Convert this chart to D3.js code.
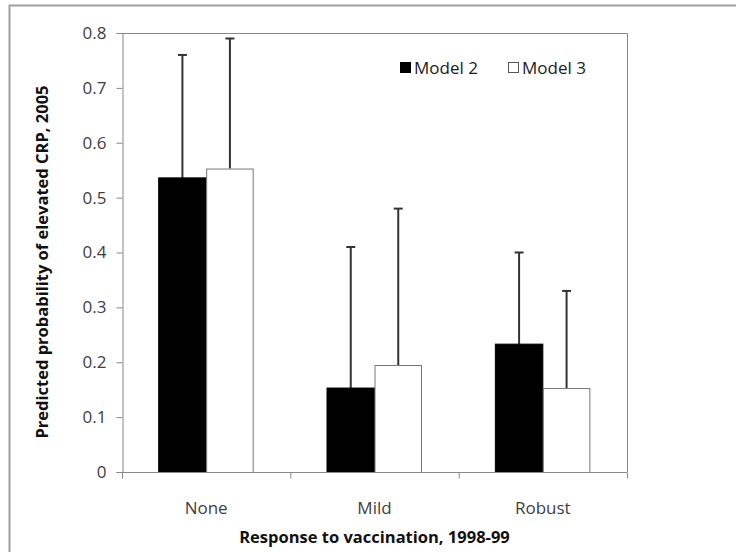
<!DOCTYPE html>
<html>
<head>
<meta charset="utf-8">
<script src="https://cdn.jsdelivr.net/npm/d3@7"></script>
<style>
  body { margin: 0; background: #fff; }
  svg { display: block; }
  text { font-family: "Open Sans", "Liberation Sans", sans-serif; }
</style>
</head>
<body>
<svg id="chart" width="736" height="552"></svg>
<script>
const categories = ["None", "Mild", "Robust"];
const seriesNames = ["Model 2", "Model 3"];
const model2 = [0.536, 0.153, 0.233];
const model3 = [0.553, 0.195, 0.153];
const model2Upper = [0.76, 0.41, 0.40];
const model3Upper = [0.79, 0.48, 0.33];
const yTicks = [0, 0.1, 0.2, 0.3, 0.4, 0.5, 0.6, 0.7, 0.8];
const yTitle = "Predicted probability of elevated CRP, 2005";
const xTitle = "Response to vaccination, 1998-99";

const svg = d3.select("#chart");
const W = 736, H = 552;
const m = { left: 122, top: 33, right: 736 - 627, bottom: 552 - 472 };
const iw = W - m.left - m.right, ih = H - m.top - m.bottom;

// outer frame
svg.append("path")
  .attr("d", `M9.5,${H + 5} L9.5,5.5 L${W + 5},5.5`)
  .attr("fill", "none").attr("stroke", "#a0a0a0").attr("stroke-width", 2);

const g = svg.append("g").attr("transform", `translate(${m.left},${m.top})`);

const x0 = d3.scaleBand().domain(categories).range([0, iw]).paddingInner(0).paddingOuter(0);
const x1 = d3.scaleBand().domain(seriesNames).range([0, 95]);
const y = d3.scaleLinear().domain([0, 0.8]).range([ih, 0]);

// plot border (top & right)
g.append("path")
  .attr("d", `M0,0.5 H${iw + 0.5} V${ih}`)
  .attr("fill", "none").attr("stroke", "#888").attr("stroke-width", 1);

const data = categories.map((c, i) => ({
  cat: c,
  vals: [
    { s: seriesNames[0], v: model2[i], up: model2Upper[i] },
    { s: seriesNames[1], v: model3[i], up: model3Upper[i] }
  ]
}));

const groups = g.selectAll(".grp").data(data).enter().append("g")
  .attr("transform", d => `translate(${x0(d.cat) + x0.bandwidth() / 2 - 47.5},0)`);

// error bars
groups.selectAll(".err").data(d => d.vals).enter().append("g").each(function(d) {
  const cx = x1(d.s) + x1.bandwidth() / 2;
  const gg = d3.select(this);
  gg.append("line").attr("x1", cx).attr("x2", cx)
    .attr("y1", y(d.v)).attr("y2", y(d.up))
    .attr("stroke", "#333").attr("stroke-width", 2);
  gg.append("line").attr("x1", cx - 4.5).attr("x2", cx + 4.5)
    .attr("y1", y(d.up)).attr("y2", y(d.up))
    .attr("stroke", "#333").attr("stroke-width", 2);
});

groups.selectAll("rect").data(d => d.vals).enter().append("rect")
  .attr("x", d => x1(d.s) + (d.s === seriesNames[1] ? 0.5 : 0))
  .attr("y", d => y(d.v) + (d.s === seriesNames[1] ? 0.5 : 0))
  .attr("width", d => x1.bandwidth() - (d.s === seriesNames[1] ? 1 : 0))
  .attr("height", d => ih - y(d.v))
  .attr("fill", d => d.s === seriesNames[0] ? "#000" : "#fff")
  .attr("stroke", d => d.s === seriesNames[0] ? "#000" : "#777")
  .attr("stroke-width", 1);

// y axis
const yAxis = g.append("g").attr("transform", "translate(0.5,0)")
  .call(d3.axisLeft(y).tickValues(yTicks).tickSize(6).tickPadding(10)
    .tickFormat(d => d === 0 ? "0" : d3.format(".1f")(d)));
yAxis.select(".domain").attr("stroke", "#888");
yAxis.selectAll(".tick line").attr("stroke", "#888");
yAxis.selectAll("text").attr("font-size", 17).attr("fill", "#404040");

// x axis
const xAxisG = g.append("g").attr("transform", `translate(0,${ih + 0.5})`);
xAxisG.append("line").attr("x1", 0).attr("x2", iw).attr("stroke", "#888");
const boundaries = [0].concat(categories.map(c => x0(c) + x0.bandwidth()));
xAxisG.selectAll(".xt").data(boundaries).enter().append("line")
  .attr("x1", d => d + 0.5).attr("x2", d => d + 0.5).attr("y1", 0).attr("y2", 6)
  .attr("stroke", "#888");
xAxisG.selectAll(".xl").data(categories).enter().append("text")
  .attr("x", d => x0(d) + x0.bandwidth() / 2).attr("y", 41)
  .attr("text-anchor", "middle").attr("font-size", 17).attr("fill", "#404040")
  .text(d => d);

// axis titles
svg.append("text").attr("x", m.left + iw / 2).attr("y", 543)
  .attr("text-anchor", "middle").attr("font-size", 16.5).attr("font-weight", "bold")
  .attr("fill", "#111").text(xTitle);
svg.append("text")
  .attr("transform", `translate(48,262) rotate(-90)`)
  .attr("text-anchor", "middle").attr("font-size", 16.5).attr("font-weight", "bold")
  .attr("fill", "#111").text(yTitle);

// legend
const leg = svg.append("g").attr("transform", "translate(400,68)");
seriesNames.forEach((s, i) => {
  const lx = i * 108;
  leg.append("rect").attr("x", lx + 0.5).attr("y", -5.5).attr("width", 10).attr("height", 10)
    .attr("fill", i === 0 ? "#000" : "#fff").attr("stroke", i === 0 ? "#000" : "#555");
  leg.append("text").attr("x", lx + 14).attr("y", 6).attr("font-size", 17)
    .attr("fill", "#202020").text(s);
});
</script>
</body>
</html>
